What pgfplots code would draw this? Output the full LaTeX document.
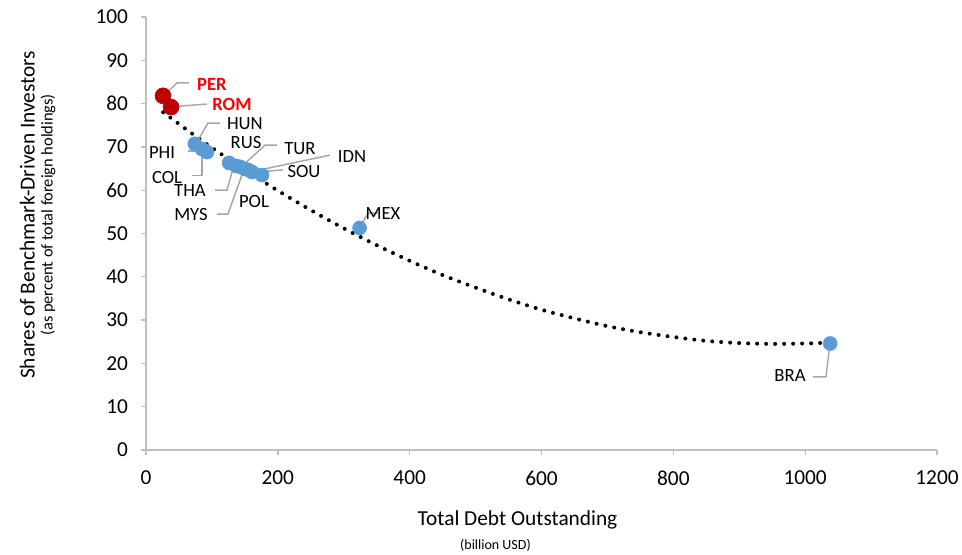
\documentclass[border=0pt]{standalone}
\usepackage{pgfplots}
\pgfplotsset{compat=1.18}
\usepackage{fontspec}
\setmainfont{Carlito}

\definecolor{ptblue}{HTML}{5B9BD5}
\definecolor{ptred}{HTML}{C00000}
\definecolor{lblred}{HTML}{FF0000}
\definecolor{axgray}{HTML}{BFBFBF}
\definecolor{leader}{HTML}{A6A6A6}

\begin{document}
\begin{tikzpicture}
\path[use as bounding box] (-109.5pt,-78pt) rectangle (612pt,337.5pt);
\begin{axis}[
	at={(0,0)}, anchor=south west,
	scale only axis,
	width=593.25pt, height=324.75pt,
	xmin=0, xmax=1200, ymin=0, ymax=100,
	xtick={0,200,...,1200},
	ytick={0,10,...,100},
	axis x line=bottom, axis y line=left,
	axis line style={-, draw=axgray, line width=1pt},
	tick style={draw=axgray, line width=1pt},
	tick align=outside,
	major tick length=4pt,
	/pgf/number format/assume math mode=true,
	/pgf/number format/1000 sep={},
	ticklabel style={font=\fontsize{16}{18}\selectfont},
	xticklabel style={yshift=-8pt},
	yticklabel style={xshift=-6pt},
	clip=false,
]

% blue countries
\addplot[only marks, mark=*, mark size=5.25pt, color=ptblue] coordinates {
	(74,70.7)   % HUN
	(85,69.5)   % PHI
	(92.5,68.8) % COL
	(126,66.3)  % THA
	(136.6,65.6)% MYS
	(142.6,65.4)% RUS
	(150,64.9)  % TUR
	(155,64.7)  % POL
	(161,64.2)  % IDN
	(176,63.5)  % SOU
	(324,51.3)  % MEX
	(1038,24.6) % BRA
};

% red countries
\addplot[only marks, mark=*, mark size=6pt, color=ptred] coordinates {
	(25.8,81.8) % PER
	(38,79.2)   % ROM
};

% polynomial trend
\addplot[smooth, black, line width=3pt, line cap=round, dash pattern=on 0pt off 6.75pt] coordinates {
	(26,78.0) (75,72.5) (100,69.8) (150,64.7) (200,59.9) (250,55.4)
	(300,51.2) (350,47.3) (400,43.7) (450,40.4) (500,37.5) (550,34.8)
	(600,32.4) (650,30.4) (700,28.6) (750,27.2) (800,26.1) (850,25.2)
	(900,24.7) (950,24.5) (1000,24.6) (1038,24.8)
};

% leader lines
\begin{scope}[leader, line width=1.1pt]
\draw (axis cs:28.8,82.0) -- (axis cs:47,84.8) -- (axis cs:65.2,84.8);
\draw (axis cs:33.4,79.2) -- (axis cs:92.5,79.9);
\draw (axis cs:74.3,70.4) -- (axis cs:94,75.5) -- (axis cs:112.3,75.5);
\draw (axis cs:63.7,69.1) -- (axis cs:85,69.1);
\draw (axis cs:69.8,63.4) -- (axis cs:85,63.4) -- (axis cs:85,68.6);
\draw (axis cs:104.7,60) -- (axis cs:122.9,60) -- (axis cs:130.5,64.2);
\draw (axis cs:107.7,54.5) -- (axis cs:124.4,54.5) -- (axis cs:147.1,64.2);
\draw (axis cs:139.6,64.7) -- (axis cs:180.5,70.4) -- (axis cs:198.7,70.4);
\draw (axis cs:157.8,64.2) -- (axis cs:279,68.1);
\draw (axis cs:169.9,64.2) -- (axis cs:207.8,64.7);
\draw (axis cs:324.6,51.5) -- (axis cs:336.8,54.7) -- (axis cs:355,54.7);
\draw (axis cs:1037.6,24.7) -- (axis cs:1031.6,16.9) -- (axis cs:1011.8,16.9);
\end{scope}

% data labels
\begin{scope}[every node/.style={font=\fontsize{14}{16}\selectfont, inner sep=0pt}]
\node[text=lblred, font=\fontsize{14}{16}\selectfont\bfseries] at (axis cs:100,84.5) {PER};
\node[text=lblred, font=\fontsize{14}{16}\selectfont\bfseries] at (axis cs:130.5,79.7) {ROM};
\node at (axis cs:150,75.3) {HUN};
\node at (axis cs:151.7,71.1) {RUS};
\node at (axis cs:233.6,69.7) {TUR};
\node at (axis cs:312.5,67.8) {IDN};
\node at (axis cs:239.7,64.4) {SOU};
\node at (axis cs:24.3,68.8) {PHI};
\node at (axis cs:31.9,63.0) {COL};
\node at (axis cs:66.7,60.0) {THA};
\node at (axis cs:163.8,57.5) {POL};
\node at (axis cs:68.3,54.3) {MYS};
\node at (axis cs:359.5,54.7) {MEX};
\node at (axis cs:977,17.1) {BRA};
\end{scope}

% axis titles
\path (rel axis cs:0.5,0) ++(-18pt,-52.5pt) node[font=\fontsize{16}{18}\selectfont] {Total Debt Outstanding};
\path (rel axis cs:0.5,0) ++(-34.5pt,-71.25pt) node[font=\fontsize{10.5}{12}\selectfont] {(billion USD)};
\path (rel axis cs:0,0.543) ++(-89pt,0) node[rotate=90, font=\fontsize{16}{18}\selectfont] {Shares of Benchmark-Driven Investors};
\path (rel axis cs:0,0.543) ++(-73.5pt,0) node[rotate=90, font=\fontsize{12.3}{14}\selectfont] {(as percent of total foreign holdings)};

\end{axis}
\end{tikzpicture}
\end{document}
